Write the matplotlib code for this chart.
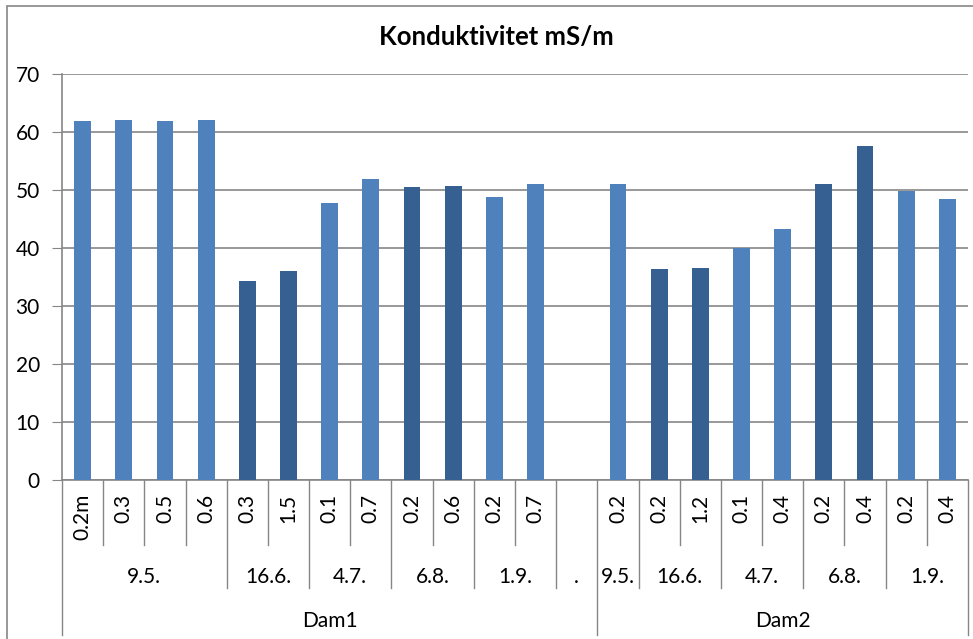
import matplotlib
matplotlib.use("Agg")
import matplotlib.pyplot as plt
from matplotlib.lines import Line2D
from matplotlib.patches import Rectangle
from matplotlib.transforms import blended_transform_factory

plt.rcParams['font.family'] = ['Lato', 'DejaVu Sans']

title = "Konduktivitet mS/m"
depths = ["0.2m", "0.3", "0.5", "0.6", "0.3", "1.5", "0.1", "0.7", "0.2", "0.6", "0.2", "0.7",
          "",
          "0.2", "0.2", "1.2", "0.1", "0.4", "0.2", "0.4", "0.2", "0.4"]
values = [61.9, 62.0, 61.9, 62.0, 34.3, 36.0, 47.8, 51.9, 50.5, 50.7, 48.8, 51.1,
          None,
          51.0, 36.4, 36.6, 40.0, 43.3, 51.0, 57.6, 49.8, 48.4]
date_labels = ["9.5.", "16.6.", "4.7.", "6.8.", "1.9.", ".", "9.5.", "16.6.", "4.7.", "6.8.", "1.9."]
date_sizes = [4, 2, 2, 2, 2, 1, 1, 2, 2, 2, 2]
dam_labels = ["Dam1", "Dam2"]
dam_sizes = [13, 9]
yticks = [0, 10, 20, 30, 40, 50, 60, 70]

LIGHT = "#4F81BD"
DARK = "#376092"
bar_colors = [LIGHT, LIGHT, LIGHT, LIGHT, DARK, DARK, LIGHT, LIGHT, DARK, DARK, LIGHT, LIGHT,
              LIGHT,
              LIGHT, DARK, DARK, LIGHT, LIGHT, DARK, DARK, LIGHT, LIGHT]
GRID = "#868686"
FS = 15

W, H = 973, 639
fig = plt.figure(figsize=(W / 100, H / 100), dpi=100)
ax = fig.add_axes([62 / W, 1 - 480 / H, (968 - 62) / W, (480 - 74) / H])

n = len(depths)
xs = [i + 0.5 for i in range(n) if values[i] is not None]
hs = [v for v in values if v is not None]
cs = [bar_colors[i] for i in range(n) if values[i] is not None]
ax.bar(xs, hs, width=0.41, color=cs, zorder=3)

ax.set_xlim(0, n)
ax.set_ylim(0, 70)
ax.set_yticks(yticks)
ax.set_yticklabels([str(t) for t in yticks], fontsize=FS)
ax.tick_params(axis='y', length=7, color=GRID, pad=9)
ax.set_xticks([])
ax.grid(axis='y', color=GRID, linewidth=1.2, zorder=0)
for s in ['top', 'right']:
    ax.spines[s].set_visible(False)
ax.spines['left'].set_color(GRID)
ax.spines['bottom'].set_color(GRID)
ax.spines['left'].set_linewidth(1.2)
ax.spines['bottom'].set_linewidth(1.2)

fig.text(496 / W, 1 - 37 / H, title, ha='center', va='center', fontsize=18.5, fontweight='bold')

tr = blended_transform_factory(ax.transData, fig.transFigure)
def fy(py):
    return 1 - py / H

def vline(x, y_bottom_px):
    fig.add_artist(Line2D([x, x], [fy(480), fy(y_bottom_px)], transform=tr, color=GRID,
                          linewidth=1.0, clip_on=False))

# level 1 labels
for i, d in enumerate(depths):
    if d:
        fig.text(i + 0.5, fy(494), d, transform=tr, rotation=90, ha='center', va='top', fontsize=FS)

# separators
date_bounds = set()
pos = 0
for lab, sz in zip(date_labels, date_sizes):
    for k in range(1, sz):
        vline(pos + k, 545)
    fig.text(pos + sz / 2, fy(577), lab, transform=tr, ha='center', va='center', fontsize=FS)
    pos += sz
    date_bounds.add(pos)

dam_bounds = {0}
pos = 0
for lab, sz in zip(dam_labels, dam_sizes):
    fig.text(pos + sz / 2, fy(621), lab, transform=tr, ha='center', va='center', fontsize=FS)
    pos += sz
    dam_bounds.add(pos)

for b in sorted(date_bounds | dam_bounds):
    if b in dam_bounds:
        vline(b, 635)
    else:
        vline(b, 588)

# chart frame
fig.add_artist(Rectangle((7 / W, -0.05), 1.0, 1 - 6 / H + 0.05, transform=fig.transFigure,
                         fill=False, edgecolor="#868686", linewidth=1.2))

fig.savefig("out.png", dpi=100)
